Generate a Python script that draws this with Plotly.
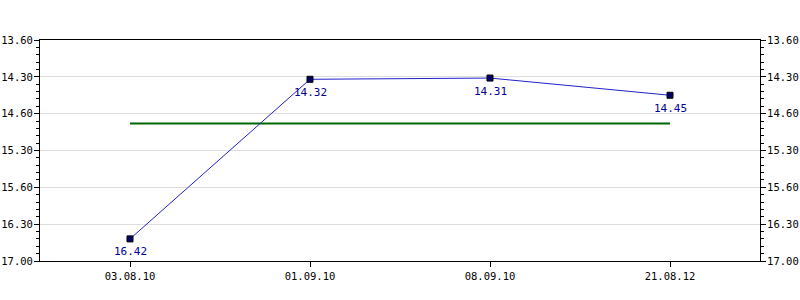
import plotly.graph_objects as go

categories = ["03.08.10", "01.09.10", "08.09.10", "21.08.12"]
times = ["16.42", "14.32", "14.31", "14.45"]
average_time = "15.08"
tick_labels = ["13.60", "14.30", "14.60", "15.30", "15.60", "16.30", "17.00"]
tick_minutes = [14.0, 14.5, 15.0, 15.5, 16.0, 16.5, 17.0]


def to_minutes(s):
    m, sec = s.split(".")
    return int(m) + int(sec) / 60.0


y_vals = [to_minutes(t) for t in times]
avg = to_minutes(average_time)

FONT = "DejaVu Sans Mono"

fig = go.Figure()
fig.add_trace(go.Scatter(
    x=[categories[0], categories[-1]], y=[avg, avg], mode="lines",
    line=dict(color="#006600", width=2), hoverinfo="skip", showlegend=False))
fig.add_trace(go.Scatter(
    x=categories, y=y_vals, mode="lines+markers",
    line=dict(color="#2222cc", width=1),
    marker=dict(symbol="square", size=6, color="#000066",
                line=dict(color="#000000", width=1)),
    showlegend=False))
fig.add_trace(go.Scatter(
    x=categories, y=y_vals, yaxis="y2", mode="markers",
    marker=dict(opacity=0), hoverinfo="skip", showlegend=False))

for c, t, v in zip(categories, times, y_vals):
    fig.add_annotation(x=c, y=v, text=t, showarrow=False, yshift=-13,
                       font=dict(family=FONT, size=11, color="#000099"))

yax = dict(
    range=[17.0, 14.0], tickvals=tick_minutes, ticktext=tick_labels,
    ticks="outside", ticklen=5, tickcolor="black", tickwidth=1,
    showgrid=True, gridcolor="#dddddd", gridwidth=1,
    showline=True, linecolor="black", linewidth=1,
    zeroline=False, automargin=False, ticklabelstandoff=-1,
    tickfont=dict(family=FONT, size=10.5, color="black"),
    minor=dict(dtick=0.1, tick0=14.0, ticks="outside", ticklen=3,
               tickcolor="black", showgrid=False),
)
fig.update_layout(
    width=800, height=300,
    margin=dict(l=40, r=40, t=40, b=39),
    plot_bgcolor="white", paper_bgcolor="white",
    xaxis=dict(
        type="category", categoryorder="array", categoryarray=categories,
        range=[-0.5, 3.5], automargin=False,
        ticks="outside", ticklen=5, tickcolor="black",
        showline=True, linecolor="black", linewidth=1, mirror=True,
        showgrid=False, zeroline=False,
        tickfont=dict(family=FONT, size=10.5, color="black"),
    ),
    yaxis=yax,
    yaxis2=dict(yax, overlaying="y", side="right", showgrid=False),
)

fig.write_html("out.html")
